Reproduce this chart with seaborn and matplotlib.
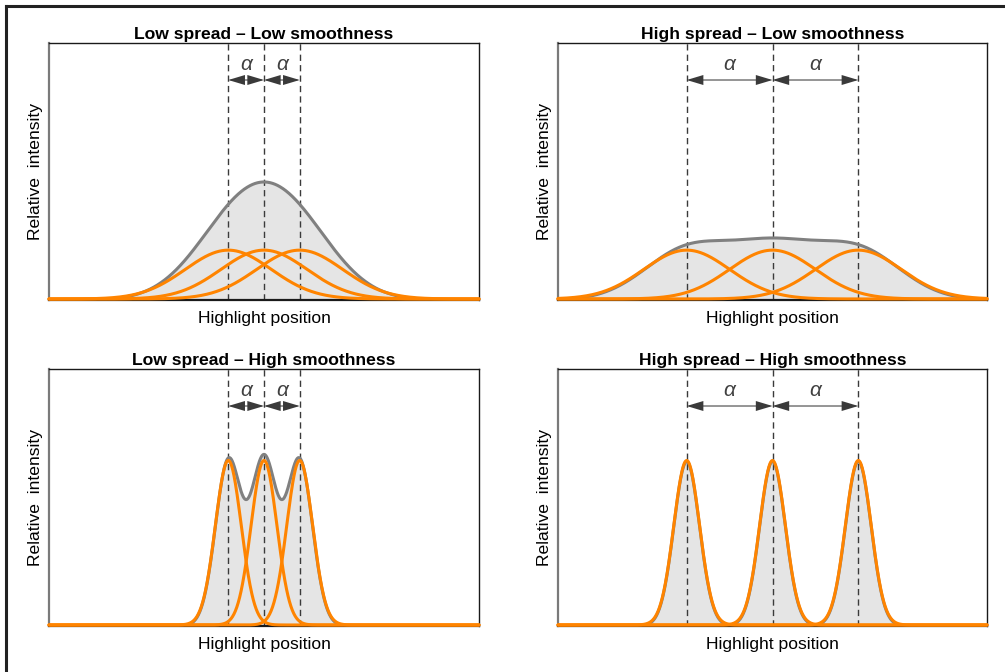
import numpy as np
import pandas as pd
import matplotlib
matplotlib.use("Agg")
import matplotlib.pyplot as plt
from matplotlib.lines import Line2D
from matplotlib.patches import FancyArrowPatch
import seaborn as sns

# ---------------- data ----------------
panel_titles = [
    "Low spread \u2013 Low smoothness",
    "High spread \u2013 Low smoothness",
    "Low spread \u2013 High smoothness",
    "High spread \u2013 High smoothness",
]
center_position = 50.0                 # middle highlight, x-domain 0..100
alpha_spacing = [8.3, 20.0, 8.3, 20.0] # distance between neighbouring highlights
kernel_sigma = [10.0, 10.0, 3.0, 3.0]  # width of each highlight kernel
kernel_height = [0.19, 0.19, 0.64, 0.64]  # peak height of each kernel
x_label = "Highlight position"
y_label = "Relative  intensity"
alpha_label = "\u03b1"

# ---------------- style ----------------
sns.set_theme(style="white")
plt.rcParams["font.family"] = ["Liberation Sans", "DejaVu Sans"]

ORANGE = "#ff8400"
SUM_GRAY = "#808080"
FILL_GRAY = "#e5e5e5"
DASH = "#3a3a3a"
ARROW = "#3a3a3a"

fig = plt.figure(figsize=(10.05, 6.72), dpi=100)
W, H = 1005, 672
boxes = [(49, 43, 430, 257), (558, 43, 429, 257),
         (49, 369, 430, 257), (558, 369, 429, 257)]

xs = np.linspace(0, 100, 1201)

for i, (l, t, w, h) in enumerate(boxes):
    ax = fig.add_axes([l / W, 1 - (t + h) / H, w / W, h / H])
    a = alpha_spacing[i]
    s = kernel_sigma[i]
    hh = kernel_height[i]
    centers = [center_position - a, center_position, center_position + a]
    comps = [hh * np.exp(-(xs - c) ** 2 / (2 * s ** 2)) for c in centers]
    total = np.sum(comps, axis=0)

    ax.fill_between(xs, 0, total, color=FILL_GRAY, lw=0, zorder=1)
    for c in centers:
        ax.axvline(c, color=DASH, lw=1.0, ls=(0, (4.5, 3)), zorder=2)
    sns.lineplot(x=xs, y=total, ax=ax, color=SUM_GRAY, lw=2.2, zorder=3,
                 estimator=None, sort=False)
    for comp in comps:
        sns.lineplot(x=xs, y=comp + 0.004, ax=ax, color=ORANGE, lw=2.2,
                     zorder=4, estimator=None, sort=False, clip_on=False)

    ax.set_xlim(0, 100)
    ax.set_ylim(0, 1)
    ax.set_xticks([])
    ax.set_yticks([])
    for side in ["top", "right", "bottom"]:
        ax.spines[side].set_color("#1a1a1a")
        ax.spines[side].set_linewidth(1.0)
    ax.spines["bottom"].set_linewidth(1.6)
    ax.spines["bottom"].set_zorder(3.5)
    ax.spines["left"].set_color("#7a7a7a")
    ax.spines["left"].set_linewidth(1.6)

    # arrows and alpha labels
    y_arrow = 0.856
    for c0, c1 in [(centers[0], centers[1]), (centers[1], centers[2])]:
        shaft = FancyArrowPatch((c0, y_arrow), (c1, y_arrow), arrowstyle="-",
                                color="#8c8c8c", lw=1.3, shrinkA=2, shrinkB=2,
                                zorder=5)
        ax.add_patch(shaft)
        heads = FancyArrowPatch((c0, y_arrow), (c1, y_arrow),
                                arrowstyle="<|-|>,head_length=12,head_width=3.6",
                                mutation_scale=1, facecolor=ARROW,
                                edgecolor="none", lw=0, shrinkA=0, shrinkB=0,
                                zorder=6)
        ax.add_patch(heads)
        ax.text((c0 + c1) / 2, 0.915, alpha_label, style="italic",
                fontsize=15, color="#404040", ha="center", va="center",
                zorder=6)

    ax.set_title(panel_titles[i], fontsize=12.6, fontweight="bold",
                 color="black", pad=3)
    ax.set_xlabel(x_label, fontsize=12.6, color="black", labelpad=8)
    ax.set_ylabel(y_label, fontsize=12.6, color="black", labelpad=4)

# outer frame (top and left edges)
fig.add_artist(Line2D([6 / W, 6 / W], [0, 1 - 6 / H], transform=fig.transFigure,
                      color="#222222", lw=2.2, solid_capstyle="projecting"))
fig.add_artist(Line2D([6 / W, 1003 / W], [1 - 6 / H, 1 - 6 / H],
                      transform=fig.transFigure, color="#222222", lw=2.2,
                      solid_capstyle="projecting"))

fig.savefig("out.png", dpi=100)
